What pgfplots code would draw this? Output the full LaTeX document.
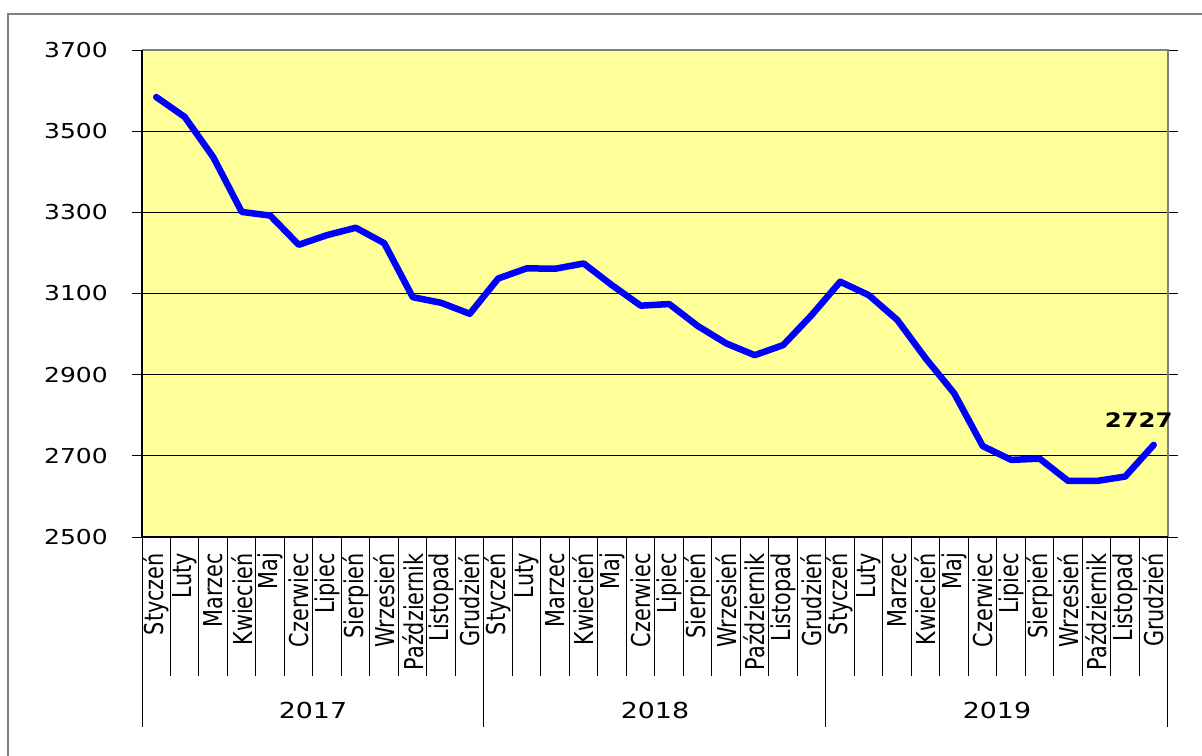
\documentclass[border=0pt]{standalone}
\usepackage{pgfplots}
\pgfplotsset{compat=1.18}
\usepackage{fontspec}
\setmainfont{DejaVu Sans}
\newfontfamily\numfont[FakeStretch=1.22]{DejaVu Sans}
\newfontfamily\monthfont[FakeStretch=0.8]{DejaVu Sans}
\definecolor{bgyellow}{RGB}{255,255,153}
\definecolor{framegray}{RGB}{128,128,128}
\definecolor{lineblue}{RGB}{0,0,255}

\begin{document}
\begin{tikzpicture}
\path[use as bounding box] (0,0) rectangle (1202bp,756bp);
\draw[framegray, line width=1.5bp] (8bp,-2bp) -- (8bp,742bp) -- (1204bp,742bp);
\begin{axis}[
  at={(142bp,219bp)}, anchor=south west,
  scale only axis, width=1026bp, height=487bp,
  xmin=-0.5, xmax=35.5, ymin=2500, ymax=3700,
  ytick={2500,2700,...,3700},
  xtick={0,...,35},
  xticklabels={Styczeń,Luty,Marzec,Kwiecień,Maj,Czerwiec,Lipiec,Sierpień,Wrzesień,Październik,Listopad,Grudzień,
               Styczeń,Luty,Marzec,Kwiecień,Maj,Czerwiec,Lipiec,Sierpień,Wrzesień,Październik,Listopad,Grudzień,
               Styczeń,Luty,Marzec,Kwiecień,Maj,Czerwiec,Lipiec,Sierpień,Wrzesień,Październik,Listopad,Grudzień},
  tick align=outside,
  major tick length=10bp,
  xtick style={draw=none},
  ytick style={black, line width=0.8bp},
  axis line style={draw=none},
  axis background/.style={fill=bgyellow},
  ymajorgrids, grid style={black, line width=0.8bp},
  clip=false,
  yticklabel style={font=\numfont\fontsize{20.5bp}{24bp}\selectfont, anchor=east, inner sep=0pt},
  yticklabel shift=24bp,
  xticklabel style={font=\monthfont\fontsize{26bp}{28bp}\selectfont, rotate=90, anchor=east, inner sep=0pt},
  xticklabel shift=6bp,
  /pgf/number format/assume math mode=true,
  /pgf/number format/1000 sep={},
  scaled y ticks=false,
]
\pgfplotsinvokeforeach{0,...,36}{
  \draw[black, line width=1bp] (axis cs:#1-0.5,2500) -- ([yshift=-139bp]axis cs:#1-0.5,2500);
}
\pgfplotsinvokeforeach{-0.5,11.5,23.5,35.5}{
  \draw[black, line width=1bp] (axis cs:#1,2500) -- ([yshift=-190bp]axis cs:#1,2500);
}
\draw[framegray, line width=2.2bp] (rel axis cs:0,1) -- (rel axis cs:1,1) -- (rel axis cs:1,0);
\draw[black, line width=1.3bp] (rel axis cs:0,1) -- (rel axis cs:0,0) -- (rel axis cs:1,0);

\addplot[lineblue, line width=6.5bp, line join=round, line cap=round] coordinates {
  (0,3584) (1,3535) (2,3436) (3,3301) (4,3292) (5,3220) (6,3244) (7,3262) (8,3224) (9,3091) (10,3077) (11,3050)
  (12,3137) (13,3162) (14,3161) (15,3174) (16,3120) (17,3070) (18,3074) (19,3020) (20,2977) (21,2948) (22,2973) (23,3047)
  (24,3129) (25,3096) (26,3035) (27,2940) (28,2854) (29,2724) (30,2690) (31,2693) (32,2638) (33,2638) (34,2649) (35,2727)
};
\node[font=\numfont\bfseries\fontsize{20bp}{22bp}\selectfont, xshift=-15bp, yshift=25bp] at (axis cs:35,2727) {2727};
\node[font=\numfont\fontsize{22bp}{26bp}\selectfont, yshift=-173bp] at (axis cs:5.5,2500) {2017};
\node[font=\numfont\fontsize{22bp}{26bp}\selectfont, yshift=-173bp] at (axis cs:17.5,2500) {2018};
\node[font=\numfont\fontsize{22bp}{26bp}\selectfont, yshift=-173bp] at (axis cs:29.5,2500) {2019};
\end{axis}
\end{tikzpicture}
\end{document}
